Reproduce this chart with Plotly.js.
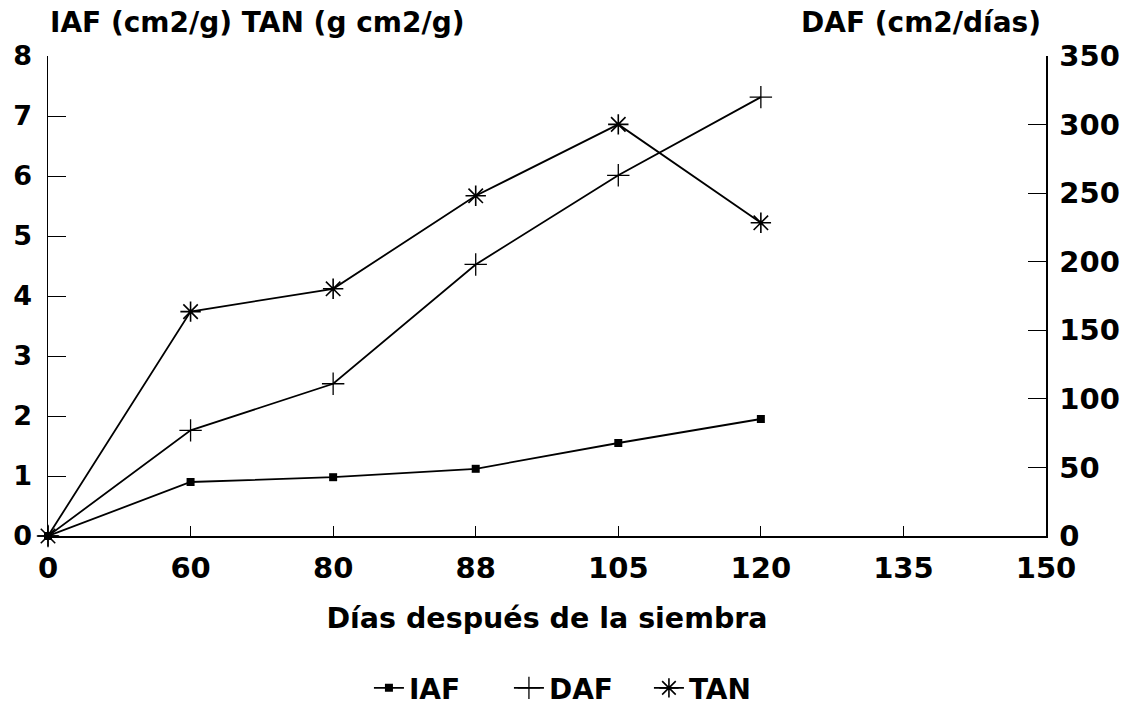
<!DOCTYPE html>
<html>
<head>
<meta charset="utf-8">
<script src="https://cdn.plot.ly/plotly-3.0.1.min.js"></script>
<style>html,body{margin:0;padding:0;background:#fff;}</style>
</head>
<body>
<div id="chart" style="width:1130px;height:708px;"></div>
<script>
// Tick categories (días después de la siembra)
const xTicks = ['0', '60', '80', '88', '105', '120', '135', '150'];
// Sampled days
const days = ['0', '60', '80', '88', '105', '120'];
// Series values
const iaf = [0, 0.90, 0.98, 1.12, 1.55, 1.95];      // left axis
const daf = [0, 77, 111, 198, 263, 320];            // right axis
const tan = [0, 3.74, 4.12, 5.67, 6.86, 5.22];      // left axis

const FONT = 'DejaVu Sans, Arial, sans-serif';

const traces = [
  {
    name: 'IAF', x: days, y: iaf, yaxis: 'y', type: 'scatter', mode: 'lines+markers',
    line: {color: '#000', width: 1.8},
    marker: {symbol: 'square', size: 8, color: '#000'},
    cliponaxis: false
  },
  {
    name: 'DAF', x: days, y: daf, yaxis: 'y2', type: 'scatter', mode: 'lines+markers',
    line: {color: '#000', width: 1.8},
    marker: {symbol: 'cross-thin-open', size: 16, color: '#000', line: {color: '#000', width: 1.3}},
    cliponaxis: false
  },
  {
    name: 'TAN', x: days, y: tan, yaxis: 'y', type: 'scatter', mode: 'lines+markers',
    line: {color: '#000', width: 1.8},
    marker: {symbol: 'asterisk-open', size: 17, color: '#000', line: {color: '#000', width: 1.6}},
    cliponaxis: false
  }
];

const layout = {
  width: 1130, height: 708,
  margin: {l: 48, r: 84, t: 56, b: 172, autoexpand: false},
  paper_bgcolor: '#fff', plot_bgcolor: '#fff',
  font: {family: FONT, color: '#000', size: 28, weight: 700},
  showlegend: true,
  legend: {
    orientation: 'h', x: 0.532, xanchor: 'center', y: -0.317, yanchor: 'middle',
    font: {family: FONT, size: 28, color: '#000', weight: 700},
    entrywidth: 95, entrywidthmode: 'pixels', tracegroupgap: 0
  },
  xaxis: {
    type: 'category', categoryorder: 'array', categoryarray: xTicks,
    tickvals: xTicks, ticktext: xTicks,
    range: [0, 7], fixedrange: true,
    showline: true, linecolor: '#000', linewidth: 1.5,
    ticks: 'inside', ticklen: 10, tickwidth: 1, tickcolor: '#000',
    showgrid: false, zeroline: false,
    tickfont: {family: FONT, size: 29, color: '#000', weight: 700},
    ticklabelstandoff: 6,
    title: {text: 'Días después de la siembra', font: {family: FONT, size: 28.5, color: '#000', weight: 700}, standoff: 24}
  },
  yaxis: {
    range: [0, 8], dtick: 1, tick0: 0,
    showline: true, linecolor: '#000', linewidth: 1.5,
    ticks: 'inside', ticklen: 18, tickwidth: 1, tickcolor: '#000',
    showgrid: false, zeroline: false,
    tickfont: {family: FONT, size: 27, color: '#000', weight: 700},
    ticklabelstandoff: 9
  },
  yaxis2: {
    overlaying: 'y', side: 'right', anchor: 'x',
    range: [0, 350], dtick: 50, tick0: 0,
    showline: true, linecolor: '#000', linewidth: 1.5,
    ticks: 'inside', ticklen: 18, tickwidth: 1, tickcolor: '#000',
    showgrid: false, zeroline: false,
    tickfont: {family: FONT, size: 29, color: '#000', weight: 700},
    ticklabelstandoff: 6
  },
  annotations: [
    {
      text: 'IAF\u00a0(cm2/g)\u00a0TAN\u00a0(g\u00a0cm2/g)', xref: 'paper', yref: 'paper',
      x: 0, xanchor: 'left', y: 1.069, yanchor: 'middle', showarrow: false,
      font: {family: FONT, size: 28, color: '#000', weight: 700}
    },
    {
      text: 'DAF\u00a0(cm2/días)', xref: 'paper', yref: 'paper',
      x: 0.997, xanchor: 'right', y: 1.069, yanchor: 'middle', showarrow: false,
      font: {family: FONT, size: 28, color: '#000', weight: 700}
    }
  ]
};

Plotly.newPlot('chart', traces, layout, {displayModeBar: false, staticPlot: true});
</script>
</body>
</html>
